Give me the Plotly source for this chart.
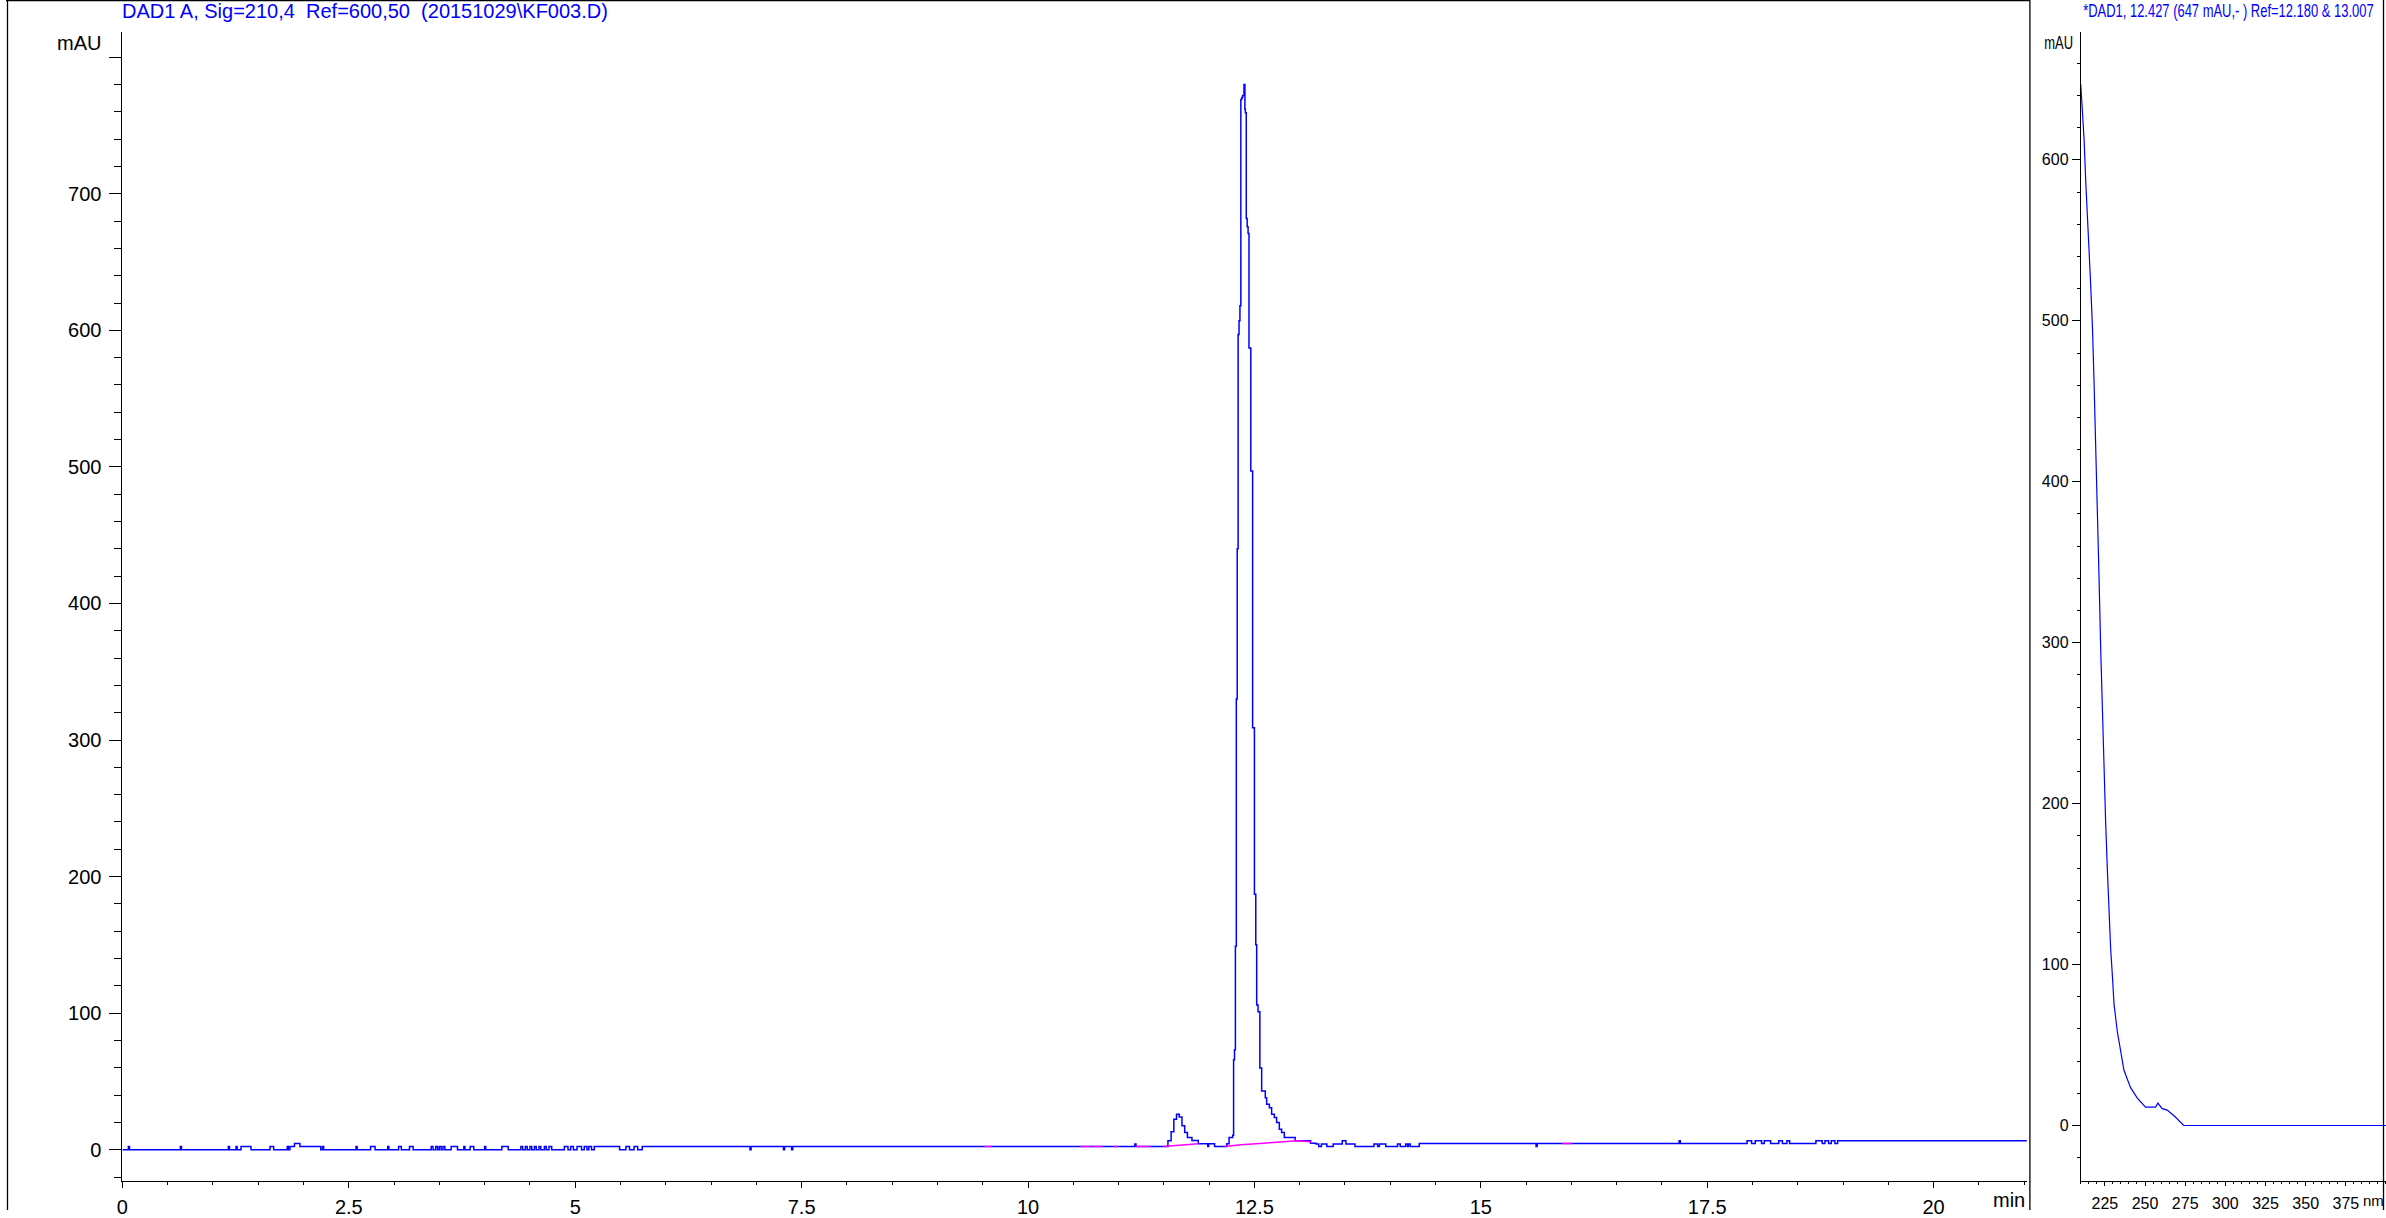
import plotly.graph_objects as go

# ---------------- data ----------------
# Chromatogram DAD1 A, change points of the step trace (min, mAU)
chrom_time = [
    0.00, 0.066, 0.078, 0.64, 0.652, 1.17, 1.182, 1.255, 1.267, 1.31, 1.42,
    1.63, 1.67, 1.82, 1.832, 1.85, 1.90, 1.96, 2.19, 2.21, 2.222, 2.58, 2.592,
    2.74, 2.79, 2.93, 2.942, 3.05, 3.08, 3.17, 3.21, 3.41, 3.43, 3.46, 3.48,
    3.50, 3.52, 3.54, 3.56, 3.63, 3.70, 3.77, 3.782, 3.84, 3.88, 4.00, 4.012,
    4.19, 4.26, 4.40, 4.42, 4.45, 4.47, 4.50, 4.52, 4.55, 4.57, 4.60, 4.62,
    4.66, 4.68, 4.71, 4.74, 4.88, 4.92, 4.95, 4.98, 5.02, 5.07, 5.10, 5.13,
    5.15, 5.18, 5.21, 5.49, 5.56, 5.60, 5.65, 5.69, 5.74, 6.93, 6.942, 7.30,
    7.312, 7.39, 7.402, 11.18, 11.192,
    11.545, 11.58, 11.61, 11.64, 11.67, 11.70, 11.73, 11.76, 11.81, 11.88,
    11.985, 11.995, 12.06,
    12.195, 12.22, 12.26, 12.27, 12.28, 12.29, 12.30, 12.31, 12.32, 12.33,
    12.34, 12.35, 12.36, 12.37, 12.385, 12.395, 12.40, 12.41, 12.42, 12.43,
    12.44, 12.46, 12.48, 12.50, 12.515, 12.525, 12.54, 12.56, 12.58, 12.62,
    12.635, 12.665, 12.69, 12.72, 12.745, 12.775, 12.80, 12.83, 12.95, 13.12,
    13.18, 13.21, 13.24, 13.30, 13.37, 13.47, 13.51, 13.61, 13.82, 13.86,
    13.88, 13.95, 14.08, 14.11, 14.17, 14.19, 14.20, 14.22, 14.32,
    15.61, 15.622, 17.19, 17.202, 17.94, 17.99, 18.03, 18.10, 18.13, 18.20,
    18.29, 18.33, 18.38, 18.41, 18.70, 18.77, 18.80, 18.84, 18.87, 18.91,
    18.94, 21.03,
]
chrom_mau = [
    0.0, 2.3, 0.0, 2.3, 0.0, 2.3, 0.0, 2.3, 0.0, 2.3, 0.0,
    2.3, 0.0, 2.3, 0.0, 2.3, 4.6, 2.3, 0.0, 2.3, 0.0, 2.3, 0.0,
    2.3, 0.0, 2.3, 0.0, 2.3, 0.0, 2.3, 0.0, 2.3, 0.0, 2.3, 0.0,
    2.3, 0.0, 2.3, 0.0, 2.3, 0.0, 2.3, 0.0, 2.3, 0.0, 2.3, 0.0,
    2.3, 0.0, 2.3, 0.0, 2.3, 0.0, 2.3, 0.0, 2.3, 0.0, 2.3, 0.0,
    2.3, 0.0, 2.3, 0.0, 2.3, 0.0, 2.3, 0.0, 2.3, 0.0, 2.3, 0.0,
    2.3, 0.0, 2.3, 0.0, 2.3, 0.0, 2.3, 0.0, 2.3, 0.0, 2.3, 0.0,
    2.3, 0.0, 2.3, 4.1, 2.3,
    6.5, 13.1, 22.3, 25.9, 24.0, 17.5, 12.6, 9.0, 6.8, 4.4,
    2.3, 4.4, 2.3,
    4.4, 9.0, 10.6, 65.9, 73.2, 149.0, 330.0, 440.0, 597.0, 607.0,
    618.0, 769.0, 770.4, 772.0, 780.0, 761.8, 759.4, 681.8, 675.8, 670.9,
    587.0, 497.0, 309.0, 187.0, 150.0, 105.9, 101.0, 59.9, 42.9, 38.0,
    33.2, 30.8, 25.9, 23.5, 19.9, 15.0, 12.6, 9.0, 6.5, 4.8,
    4.1, 2.3, 4.1, 2.3, 4.1, 6.5, 4.1, 2.3, 4.1, 2.3,
    4.1, 2.3, 4.1, 2.3, 4.1, 2.3, 4.1, 2.3, 4.5,
    2.3, 4.5, 6.5, 4.5, 6.5, 4.5, 6.5, 4.5, 6.5, 4.5,
    6.5, 4.5, 6.5, 4.5, 6.5, 4.5, 6.5, 4.5, 6.5, 4.5,
    6.5, 6.5,
]

# Integration baseline (magenta) segments
base_time = [9.52, 9.60, None, 10.58, 10.69, None, 10.71, 10.82, None,
             10.95, 10.99, None, 11.19, 11.35, None, 11.49, 11.88, None,
             12.17, 12.35, 12.60, 12.80, 12.96, 13.10, 13.14, None, 15.90, 16.00]
base_mau = [2.3, 2.3, None, 2.3, 2.3, None, 2.3, 2.3, None,
            2.3, 2.3, None, 2.3, 2.3, None, 2.3, 4.4, None,
            2.3, 3.6, 4.8, 5.9, 6.5, 6.0, 4.8, None, 4.5, 4.5]

# UV spectrum at 12.427 min (nm, mAU)
spec_nm = [210.0, 211.0, 212.1, 213.1, 214.1, 215.2, 216.2, 217.3, 218.3, 219.3,
           220.4, 221.4, 222.4, 223.5, 224.5, 225.5, 226.6, 227.6, 228.6, 229.7,
           230.7, 232.8, 234.8, 236.9, 241.0, 245.2, 250.3, 256.6, 258.0, 260.7,
           263.8, 267.9, 274.1, 400.0]
spec_mau = [646.8, 629.5, 612.2, 586.2, 568.9, 542.9, 521.3, 495.3, 460.7, 426.0,
            382.7, 339.5, 296.2, 252.9, 218.2, 188.0, 157.6, 131.7, 110.0, 92.7,
            75.4, 58.1, 45.1, 34.3, 23.5, 17.0, 11.4, 11.4, 13.9, 10.5,
            9.6, 6.2, 0.0, 0.0]

left_title = "DAD1 A, Sig=210,4\u00a0\u00a0Ref=600,50\u00a0\u00a0(20151029\\KF003.D)"
right_title = "*DAD1, 12.427 (647 mAU,- ) Ref=12.180 & 13.007"
chrom_ticks = [0, 2.5, 5, 7.5, 10, 12.5, 15, 17.5, 20]
chrom_ticktext = ["0", "2.5", "5", "7.5", "10", "12.5", "15", "17.5", "20"]
chrom_yticks = [0, 100, 200, 300, 400, 500, 600, 700, 800]
chrom_yticktext = ["0", "100", "200", "300", "400", "500", "600", "700", ""]
spec_xticks = [225, 250, 275, 300, 325, 350, 375]
spec_yticks = [0, 100, 200, 300, 400, 500, 600]

# ---------------- layout helpers ----------------
W, H = 2386, 1218
def fx(px):
    return px / W
def fy(py):
    return 1 - py / H

BLUE = "#0000FF"
MAG = "#FF00FF"
FONT = "Liberation Sans, Arial, sans-serif"

fig = go.Figure()
fig.add_trace(go.Scatter(x=chrom_time, y=chrom_mau, mode="lines",
                         line=dict(color=BLUE, width=1.5, shape="hv"),
                         xaxis="x", yaxis="y", showlegend=False, hoverinfo="skip"))
fig.add_trace(go.Scatter(x=base_time, y=base_mau, mode="lines",
                         line=dict(color=MAG, width=1.5), connectgaps=False,
                         xaxis="x", yaxis="y", showlegend=False, hoverinfo="skip"))
fig.add_trace(go.Scatter(x=spec_nm, y=spec_mau, mode="lines",
                         line=dict(color=BLUE, width=1.2),
                         xaxis="x2", yaxis="y2", showlegend=False, hoverinfo="skip"))

axis_common = dict(showline=True, linecolor="black", linewidth=1, showgrid=False,
                   zeroline=False, ticks="outside", tickcolor="black", tickwidth=1,
                   color="black")

fig.update_layout(
    width=W, height=H, autosize=False,
    margin=dict(l=0, r=0, t=0, b=0, pad=0),
    paper_bgcolor="white", plot_bgcolor="white",
    font=dict(family=FONT, size=20, color="black"),
    xaxis=dict(domain=[fx(116.7), fx(2026)], range=[0, 21.03], anchor="y",
               tickmode="array", tickvals=chrom_ticks, ticktext=chrom_ticktext,
               ticklen=6, tickfont=dict(family=FONT, size=20), ticklabelstandoff=2,
               minor=dict(tickmode="linear", tick0=0, dtick=0.5, ticklen=3,
                          ticks="outside", tickcolor="black", tickwidth=1),
               **axis_common),
    yaxis=dict(domain=[fy(1189), fy(32)], range=[-23.06, 818.6], anchor="x",
               tickmode="array", tickvals=chrom_yticks, ticktext=chrom_yticktext,
               ticklen=12, tickfont=dict(family=FONT, size=20), ticklabelstandoff=4,
               minor=dict(tickmode="linear", tick0=0, dtick=20, ticklen=7,
                          ticks="outside", tickcolor="black", tickwidth=1),
               **axis_common),
    xaxis2=dict(domain=[fx(2080), 1.0], range=[210, 400], anchor="y2",
                tickmode="array", tickvals=spec_xticks,
                ticklen=4, tickfont=dict(family=FONT, size=16), ticklabelstandoff=4,
                minor=dict(tickmode="linear", tick0=0, dtick=5, ticklen=2,
                           ticks="outside", tickcolor="black", tickwidth=1),
                **axis_common),
    yaxis2=dict(domain=[fy(1189), fy(32)], range=[-34.6, 679.6], anchor="x2",
                tickmode="array", tickvals=spec_yticks,
                ticklen=8, tickfont=dict(family=FONT, size=16), ticklabelstandoff=0,
                minor=dict(tickmode="linear", tick0=0, dtick=20, ticklen=3,
                           ticks="outside", tickcolor="black", tickwidth=1),
                **axis_common),
)

ann = [
    dict(text=left_title, x=fx(114), y=fy(11.5), xanchor="left", yanchor="middle",
         font=dict(family=FONT, size=20, color=BLUE)),
    dict(text="mAU", x=fx(97), y=fy(43), xanchor="right", yanchor="middle",
         font=dict(family=FONT, size=20, color="black")),
    dict(text="min", x=fx(2026), y=fy(1208), xanchor="right", yanchor="middle",
         font=dict(family=FONT, size=20, color="black")),
    dict(text=right_title, x=fx(2080), y=fy(11.5), xanchor="left", yanchor="middle",
         font=dict(family=FONT, size=18, color=BLUE)),
    dict(text="mAU", x=fx(2074), y=fy(43), xanchor="right", yanchor="middle",
         font=dict(family=FONT, size=18, color="black")),
    dict(text="nm", x=fx(2386), y=fy(1208), xanchor="right", yanchor="middle",
         font=dict(family=FONT, size=15, color="black")),
]
for a in ann:
    a.update(xref="paper", yref="paper", showarrow=False)
fig.update_layout(annotations=ann)

line = dict(color="black", width=1.3)
fig.update_layout(shapes=[
    dict(type="line", xref="paper", yref="paper", x0=fx(1.5), x1=fx(1.5), y0=0, y1=1, line=line),
    dict(type="line", xref="paper", yref="paper", x0=0, x1=fx(2029), y0=fy(0.7), y1=fy(0.7), line=line),
    dict(type="line", xref="paper", yref="paper", x0=fx(2029), x1=fx(2029), y0=0, y1=1, line=line),
    dict(type="line", xref="paper", yref="paper", x0=fx(2383.5), x1=fx(2383.5), y0=0, y1=1, line=line),
])

# condensed look of the spectrum panel annotation texts (horizontal squeeze of the real text)
post_js = """
var s='margin:0;padding:0;overflow:hidden;width:2386px;height:1218px;';
document.documentElement.style.cssText=s;
document.body.style.cssText=s;
function squeeze(){
  var gd=document.getElementById('{plot_id}');
  if(!gd){return;}
  function sq(el, origin, k){
    el.style.transformBox='fill-box';
    el.style.transformOrigin=origin;
    el.style.transform='scaleX('+k+')';
  }
  gd.querySelectorAll('text.annotation-text').forEach(function(t){
    var r=t.getBoundingClientRect();
    if(t.textContent.indexOf('*DAD1')===0){ sq(t,'0% 50%',0.72); }
    else if(t.textContent==='mAU' && r.left>1000){ sq(t,'100% 50%',0.72); }
  });
}
squeeze();
setTimeout(squeeze,50);
setTimeout(squeeze,400);
"""

fig.write_html(
    "out.html",
    config={"displayModeBar": False, "responsive": False},
    post_script=post_js,
)
